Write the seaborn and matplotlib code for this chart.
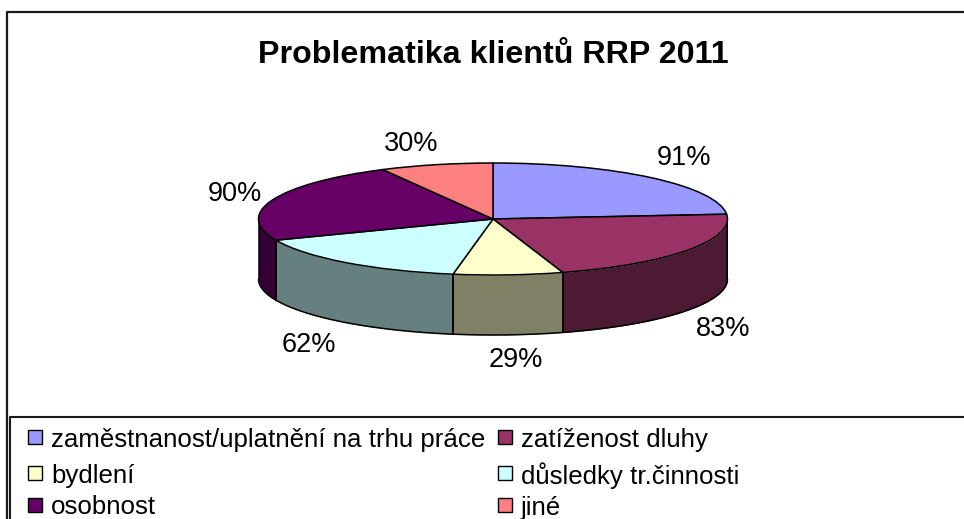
import numpy as np
import matplotlib
matplotlib.use('Agg')
import matplotlib.pyplot as plt
import seaborn as sns

# data
kategorie = ['zaměstnanost/uplatnění na trhu práce', 'zatíženost dluhy', 'bydlení',
             'důsledky tr.činnosti', 'osobnost', 'jiné']
hodnoty = [91, 83, 29, 62, 90, 30]
popisky = ['91%', '83%', '29%', '62%', '90%', '30%']
barvy = ['#9999FF', '#993366', '#FFFFCC', '#CCFFFF', '#660066', '#FF8080']
titulek = 'Problematika klientů RRP 2011'

sns.set_theme(style='white')
plt.rcParams['font.family'] = ['Liberation Sans', 'DejaVu Sans']

W, H = 964, 519
fig = plt.figure(figsize=(W / 100, H / 100), dpi=100)
pal = sns.color_palette(barvy)
tmave = [tuple(c * 0.5 for c in b) for b in pal]

# pixel layer for frame lines and texts
bg = fig.add_axes([0, 0, 1, 1])
bg.set_xlim(0, W)
bg.set_ylim(H, 0)
bg.axis('off')
bg.plot([6.5, 6.5, W], [H, 12, 12], color='#1a1a1a', lw=1.6, solid_capstyle='butt')
bg.plot([10, 10, W], [H, 416.5, 416.5], color='#1a1a1a', lw=1.5, solid_capstyle='butt')
bg.text(493, 55, titulek, ha='center', va='center', fontsize=23.2, fontweight='bold', color='black')

# pie: axes stretched so that the unit circle becomes the ellipse
cx, cy, rx, ry, hloubka = 493, 219, 234.5, 56, 60
ax = fig.add_axes([(cx - rx) / W, 1 - (cy + ry + hloubka) / H, 2 * rx / W, (2 * ry + hloubka) / H])
wedges, _ = ax.pie(hodnoty, colors=pal, startangle=90, counterclock=False, radius=1,
                   wedgeprops=dict(edgecolor='black', linewidth=1.1))
ax.set_aspect('auto')
ax.set_xlim(-1, 1)
d = hloubka / ry
ax.set_ylim(-1 - d, 1)
for w in wedges:
    w.set_clip_on(False)
    w.set_zorder(5)

# side of the disc, only the front half is visible
konce = 90 - np.cumsum(hodnoty) / np.sum(hodnoty) * 360
zacatky = np.r_[90, konce[:-1]]
for z, k, c in zip(zacatky, konce, tmave):
    # angles go clockwise, the front is between 180 and 360 degrees
    a = np.radians(np.linspace(z, k, 200))
    a = a[(np.sin(a) <= 0)]
    if len(a) == 0:
        continue
    x = np.cos(a)
    y = np.sin(a)
    ax.fill_between(x, y - d, y, color=c, lw=0, clip_on=False, zorder=1)
    ax.plot(x, y - d, color='black', lw=1.1, clip_on=False, zorder=2)
    for i in (0, -1):
        ax.plot([x[i], x[i]], [y[i], y[i] - d], color='black', lw=1.1, clip_on=False, zorder=2)

# data labels
pozice = [(683.5, 158), (723.5, 329), (515.5, 360), (309, 345), (234.5, 194), (411, 144)]
for (px, py), t in zip(pozice, popisky):
    bg.text(px, py, t, ha='center', va='center', fontsize=19.5, color='black')

# legend, filled row by row
leg_x = [35, 505]
leg_y = [437, 473, 505]
for i, (nazev, barva) in enumerate(zip(kategorie, barvy)):
    lx = leg_x[i % 2]
    ly = leg_y[i // 2]
    bg.plot([lx], [ly], ls='', marker='s', ms=9.5, mfc=barva, mec='black', mew=1)
    bg.text(lx + 16, ly, nazev, ha='left', va='center_baseline', fontsize=18.6, color='black')

fig.savefig('out.png', dpi=100, facecolor='white')
